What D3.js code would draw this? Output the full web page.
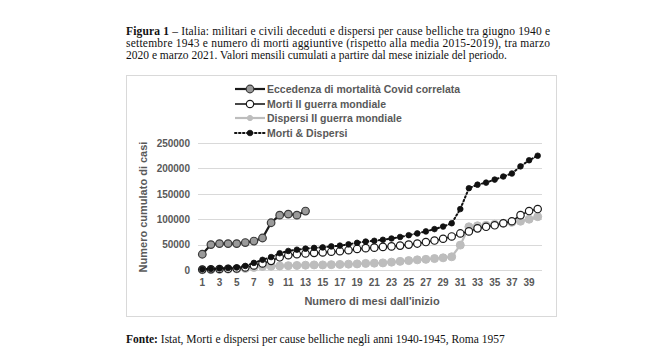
<!DOCTYPE html>
<html><head><meta charset="utf-8">
<script src="https://cdn.jsdelivr.net/npm/d3@7"></script>
<style>
html,body{margin:0;padding:0;background:#fff;}
svg{display:block;}
</style>
</head><body>
<svg id="chart" width="668" height="359"></svg>
<script>
const months = d3.range(1, 41);
const xTickLabels = d3.range(1, 40, 2);
const yTicks = [0, 50000, 100000, 150000, 200000, 250000];

const seriesNames = [
  "Eccedenza di mortalità Covid correlata",
  "Morti II guerra mondiale",
  "Dispersi II guerra mondiale",
  "Morti & Dispersi"
];

const covid = [31000, 50000, 52000, 52000, 52000, 54000, 57000, 63000, 93000, 108000, 110000, 108000, 116000];

const morti = [1000, 1500, 2000, 2500, 3000, 5000, 9000, 13000, 18000, 25000,
  29000, 31000, 32500, 33500, 34500, 36000, 37000, 39000, 41500, 43000,
  44000, 45500, 46500, 48000, 50000, 52000, 55000, 58000, 61500, 66000,
  72000, 76000, 82000, 85000, 88000, 92000, 96000, 108000, 116000, 120000];

const dispersi = [500, 700, 1000, 1500, 2000, 3000, 5000, 7000, 7500, 8000,
  8500, 9000, 9500, 10000, 10000, 10500, 11000, 11500, 12000, 13000,
  13500, 14000, 15500, 17000, 18500, 20000, 21000, 22500, 24000, 26000,
  49000, 85000, 87000, 88000, 90000, 92000, 94000, 96000, 100000, 105000];

const mortiDispersi = [1500, 2200, 3000, 4000, 5000, 8000, 14000, 20000, 25500, 33000,
  37500, 40000, 42000, 43500, 44500, 46500, 48000, 50500, 53500, 56000,
  57500, 59500, 62000, 65000, 68500, 72000, 76000, 80500, 85500, 92000,
  120000, 161000, 168000, 172000, 178000, 184000, 190000, 204000, 216000, 225000];

const titleLines = [
  ["Figura 1", " – Italia: militari e civili deceduti e dispersi per cause belliche tra giugno 1940 e"],
  ["", "settembre 1943 e numero di morti aggiuntive (rispetto alla media 2015-2019), tra marzo"],
  ["", "2020 e marzo 2021. Valori mensili cumulati a partire dal mese iniziale del periodo."]
];
const footer = ["Fonte:", " Istat, Morti e dispersi per cause belliche negli anni 1940-1945, Roma 1957"];

const svg = d3.select("#chart");
const serif = "'Liberation Serif','Times New Roman',serif";
const sans = "'Liberation Sans',Arial,sans-serif";
const txtCol = "#595959";

// Title
const tl = [35, 47, 59];
const tw = [424, 424, null];
titleLines.forEach((ln, i) => {
  const t = svg.append("text").attr("x", 126).attr("y", tl[i])
    .attr("font-family", serif).attr("font-size", 11.5).attr("fill", "#111");
  if (tw[i]) t.attr("textLength", tw[i]).attr("lengthAdjust", "spacing");
  if (ln[0]) t.append("tspan").attr("font-weight", "bold").text(ln[0]);
  t.append("tspan").text(ln[1]);
});

// Frame
svg.append("rect").attr("x", 126.5).attr("y", 75.5).attr("width", 430).attr("height", 241)
  .attr("fill", "#fff").attr("stroke", "#d9d9d9").attr("stroke-width", 1);

// Scales
const x = d3.scaleBand().domain(months).range([198, 542]);
const cx = d => x(d) + x.bandwidth() / 2;
const y = d3.scaleLinear().domain([0, 250000]).range([270, 143]);

// Gridlines
svg.append("g").selectAll("line").data(yTicks).join("line")
  .attr("x1", 198).attr("x2", 542)
  .attr("y1", d => Math.round(y(d)) + 0.5).attr("y2", d => Math.round(y(d)) + 0.5)
  .attr("stroke", "#d9d9d9").attr("stroke-width", 1);

// Y axis
const yAxis = svg.append("g").attr("transform", "translate(198,0)")
  .call(d3.axisLeft(y).tickValues(yTicks).tickSize(0).tickPadding(8).tickFormat(d3.format("d")));
yAxis.select(".domain").remove();
yAxis.selectAll("text").attr("font-family", sans).attr("font-size", 10).attr("font-weight", "bold").attr("fill", txtCol);

// X axis
const xAxis = svg.append("g").attr("transform", "translate(0,270)")
  .call(d3.axisBottom(x).tickValues(xTickLabels).tickSize(0).tickPadding(9));
xAxis.select(".domain").remove();
xAxis.selectAll("text").attr("font-family", sans).attr("font-size", 10).attr("font-weight", "bold").attr("fill", txtCol);

// Axis titles
svg.append("text").attr("transform", "translate(147,207) rotate(-90)").attr("text-anchor", "middle")
  .attr("font-family", sans).attr("font-size", 11).attr("font-weight", "bold").attr("fill", txtCol)
  .text("Numero cumulato di casi");
svg.append("text").attr("x", 372).attr("y", 305).attr("text-anchor", "middle")
  .attr("font-family", sans).attr("font-size", 11).attr("font-weight", "bold").attr("fill", txtCol)
  .text("Numero di mesi dall'inizio");

const line = d3.line().x((d, i) => cx(months[i])).y(d => y(d));

const styles = [
  {data: covid, stroke: "#1a1a1a", width: 2.2, dash: null, r: 3.8, fill: "#9a9a9a", mstroke: "#3a3a3a", mw: 1.2},
  {data: morti, stroke: "#1a1a1a", width: 1.6, dash: null, r: 3.7, fill: "#ffffff", mstroke: "#1a1a1a", mw: 1.2},
  {data: dispersi, stroke: "#bdbdbd", width: 2.2, dash: null, r: 4, fill: "#bdbdbd", mstroke: "#bdbdbd", mw: 1},
  {data: mortiDispersi, stroke: "#111", width: 2, dash: "1.5,2.5", r: 2.8, fill: "#111", mstroke: "#111", mw: 0.8}
];

// draw order: dispersi, morti, morti&dispersi, covid
[2, 1, 3, 0].forEach(k => {
  const s = styles[k];
  const g = svg.append("g");
  g.append("path").attr("d", line(s.data)).attr("fill", "none").attr("stroke", s.stroke)
    .attr("stroke-width", s.width).attr("stroke-dasharray", s.dash).attr("stroke-linecap", s.dash ? "round" : "butt");
  g.selectAll("circle").data(s.data).join("circle")
    .attr("cx", (d, i) => cx(months[i])).attr("cy", d => y(d)).attr("r", s.r)
    .attr("fill", s.fill).attr("stroke", s.mstroke).attr("stroke-width", s.mw);
});

// Legend
const ly = [89, 104, 118, 133];
seriesNames.forEach((n, i) => {
  const s = styles[i];
  const g = svg.append("g");
  g.append("line").attr("x1", 235).attr("x2", 265).attr("y1", ly[i]).attr("y2", ly[i])
    .attr("stroke", s.stroke).attr("stroke-width", s.width).attr("stroke-dasharray", s.dash)
    .attr("stroke-linecap", s.dash ? "round" : "butt");
  g.append("circle").attr("cx", 250).attr("cy", ly[i]).attr("r", i === 2 ? 2.6 : s.r)
    .attr("fill", s.fill).attr("stroke", s.mstroke).attr("stroke-width", s.mw);
  g.append("text").attr("x", 267).attr("y", ly[i] + 3.8)
    .attr("font-family", sans).attr("font-size", 10.5).attr("font-weight", "bold").attr("fill", txtCol)
    .text(n);
});

// Footer
const ft = svg.append("text").attr("x", 126).attr("y", 343)
  .attr("font-family", serif).attr("font-size", 11.5).attr("fill", "#111");
ft.append("tspan").attr("font-weight", "bold").text(footer[0]);
ft.append("tspan").text(footer[1]);
</script>
</body></html>
